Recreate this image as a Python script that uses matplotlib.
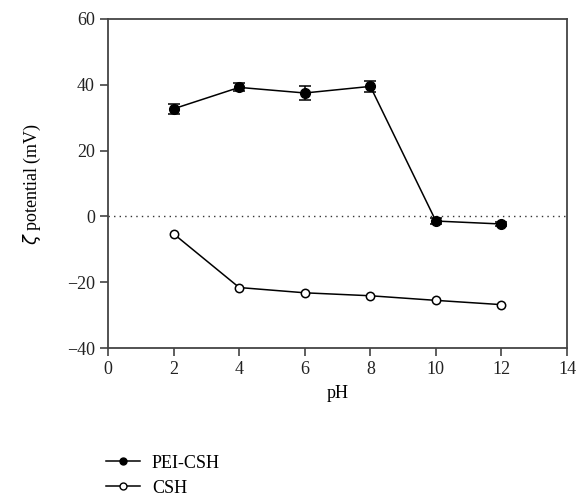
import matplotlib.pyplot as plt
from matplotlib.lines import Line2D

ph = [2, 4, 6, 8, 10, 12]
pei_csh = [32.7, 39.2, 37.5, 39.5, -1.4, -2.3]
pei_csh_err = [1.5, 1.2, 2.0, 1.7, 0.8, 0.6]
csh = [-5.3, -21.6, -23.2, -24.1, -25.5, -26.8]

plt.rcParams['font.family'] = ['Liberation Serif', 'DejaVu Serif']
plt.rcParams['font.size'] = 13

fig = plt.figure(figsize=(5.78, 4.98), dpi=100)
ax = fig.add_axes([0.187, 0.301, 0.794, 0.661])

ax.axhline(0, color='#333333', linestyle=(0, (1, 3)), linewidth=1)

ax.errorbar(ph, pei_csh, yerr=pei_csh_err, color='black', fmt='none',
            capsize=4, elinewidth=1.1, capthick=1.1)
ax.plot(ph, pei_csh, color='black', marker='o', markersize=7, linewidth=1.1)
ax.plot(ph, csh, color='black', marker='o', markersize=6,
        markerfacecolor='white', markeredgewidth=1.1, linewidth=1.1)

ax.set_xlim(0, 14)
ax.set_ylim(-40, 60)
ax.set_xticks(range(0, 15, 2))
ax.set_yticks(range(-40, 61, 20))
ax.set_yticklabels(['\u221240', '\u221220', '0', '20', '40', '60'])
ax.tick_params(direction='out', length=6, width=1.1, colors='#333333',
               labelcolor='#222222', labelsize=13)
for s in ax.spines.values():
    s.set_color('#444444')
    s.set_linewidth(1.3)

ax.set_xlabel('pH', fontsize=13, labelpad=5)
ax.set_ylabel(r'$\zeta$ potential (mV)', fontsize=13, labelpad=17)

# legend below the plot
handles = [
    Line2D([], [], color='black', marker='o', markersize=5, linewidth=1.1),
    Line2D([], [], color='black', marker='o', markersize=5, linewidth=1.1,
           markerfacecolor='white'),
]
fig.legend(handles, ['PEI-CSH', 'CSH'], loc='lower left',
           bbox_to_anchor=(0.155, -0.03), frameon=False, fontsize=13,
           handlelength=1.9, labelspacing=0.45, handletextpad=0.65)

fig.savefig('out.png', dpi=100)
